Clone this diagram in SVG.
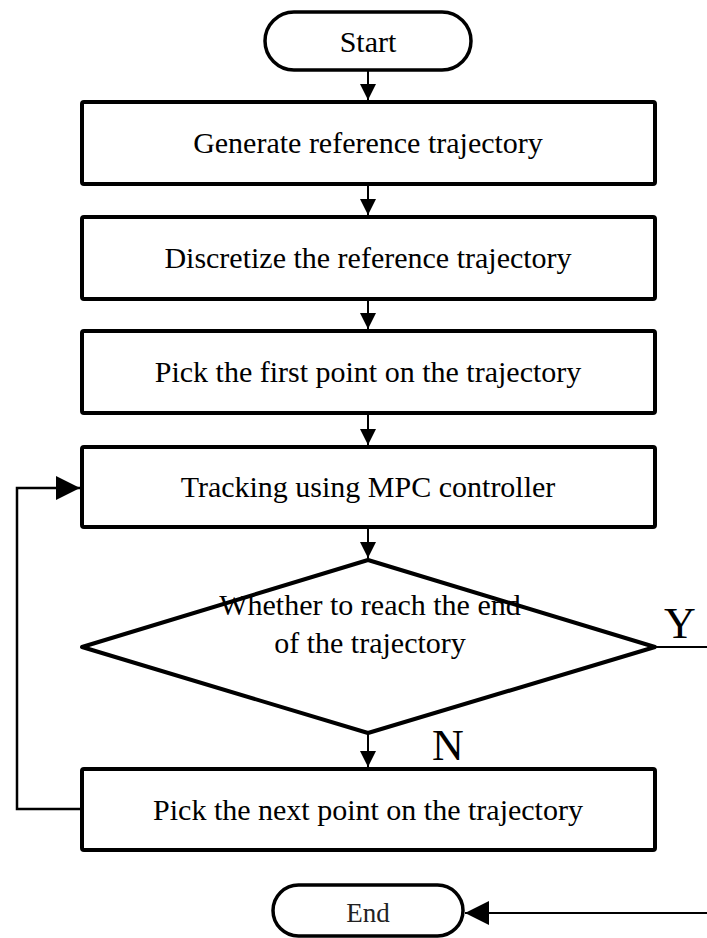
<svg xmlns="http://www.w3.org/2000/svg" width="707" height="938" viewBox="0 0 707 938">
  <style>
    .box { fill: #fff; stroke: #000; stroke-width: 4; stroke-linejoin: round; }
    .term { fill: #fff; stroke: #000; stroke-width: 3.5; }
    .lbl { font-family: "Liberation Serif", "Times New Roman", serif; font-size: 30px; fill: #000; text-anchor: middle; }
    .big { font-family: "Liberation Serif", "Times New Roman", serif; font-size: 44px; fill: #000; }
    .end { font-family: "Liberation Serif", "Times New Roman", serif; font-size: 27px; fill: #222; text-anchor: middle; }
    .wire { fill: none; stroke: #000; stroke-width: 2; }
    .wire-thick { fill: none; stroke: #000; stroke-width: 2.5; }
  </style>
  <defs>
    <marker id="arr" viewBox="0 0 16 16" refX="16" refY="8" markerWidth="16" markerHeight="16" markerUnits="userSpaceOnUse" orient="auto">
      <path d="M0,0 L16,8 L0,16 Z" fill="#000"/>
    </marker>
    <marker id="arrBig" viewBox="0 0 24 24" refX="24" refY="12" markerWidth="24" markerHeight="24" markerUnits="userSpaceOnUse" orient="auto">
      <path d="M0,0 L24,12 L0,24 Z" fill="#000"/>
    </marker>
  </defs>
  <rect width="707" height="938" fill="#fff"/>

  <g id="connectors">
    <line class="wire" x1="368" y1="70" x2="368" y2="100" marker-end="url(#arr)"/>
    <line class="wire" x1="368" y1="184" x2="368" y2="215" marker-end="url(#arr)"/>
    <line class="wire" x1="368" y1="299" x2="368" y2="329" marker-end="url(#arr)"/>
    <line class="wire" x1="368" y1="413" x2="368" y2="445" marker-end="url(#arr)"/>
    <line class="wire" x1="368" y1="527" x2="368" y2="558" marker-end="url(#arr)"/>
    <line class="wire" x1="368" y1="733" x2="368" y2="767" marker-end="url(#arr)"/>
    <!-- loop back from the "next point" step -->
    <polyline class="wire-thick" points="82,809 17,809 17,488 80,488" marker-end="url(#arrBig)"/>
    <!-- Y branch leaving the decision -->
    <line class="wire" x1="655" y1="647" x2="707" y2="647"/>
    <!-- return into End -->
    <line class="wire" x1="707" y1="913" x2="465" y2="913" marker-end="url(#arrBig)"/>
    <text class="big" x="664" y="638">Y</text>
    <text class="big" x="432" y="760">N</text>
  </g>

  <g id="start">
    <rect class="term" x="265" y="12" width="206" height="58" rx="29"/>
    <text class="lbl" x="368" y="52">Start</text>
  </g>

  <g id="generate">
    <rect class="box" x="82" y="102" width="573" height="82" rx="2"/>
    <text class="lbl" x="368" y="153">Generate reference trajectory</text>
  </g>

  <g id="discretize">
    <rect class="box" x="82" y="217" width="573" height="82" rx="2"/>
    <text class="lbl" x="368" y="268">Discretize the reference trajectory</text>
  </g>

  <g id="pick-first">
    <rect class="box" x="82" y="331" width="573" height="82" rx="2"/>
    <text class="lbl" x="368" y="382">Pick the first point on the trajectory</text>
  </g>

  <g id="tracking">
    <rect class="box" x="82" y="447" width="573" height="80" rx="2"/>
    <text class="lbl" x="368" y="497">Tracking using MPC controller</text>
  </g>

  <g id="decision">
    <polygon class="box" points="368,560 655,647 368,733 82,647"/>
    <text class="lbl" x="370" y="615">Whether to reach the end</text>
    <text class="lbl" x="370" y="653">of the trajectory</text>
  </g>

  <g id="pick-next">
    <rect class="box" x="82" y="769" width="573" height="81" rx="2"/>
    <text class="lbl" x="368" y="820">Pick the next point on the trajectory</text>
  </g>

  <g id="end">
    <rect class="term" x="273" y="885" width="190" height="51" rx="25.5"/>
    <text class="end" x="368" y="922">End</text>
  </g>
</svg>
